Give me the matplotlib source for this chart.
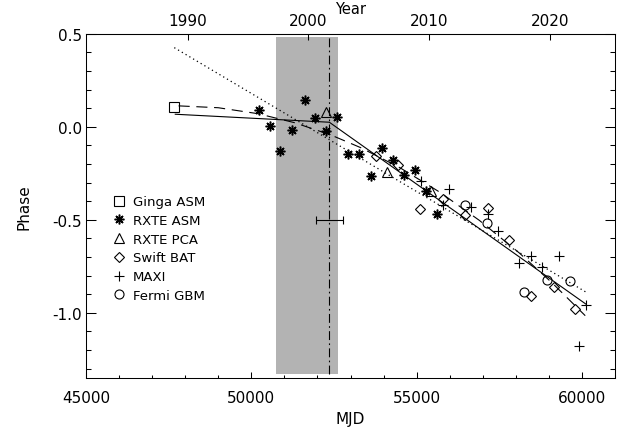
import numpy as np
import matplotlib
matplotlib.use("Agg")
from matplotlib import pyplot as plt
from matplotlib.ticker import MultipleLocator, NullLocator

plt.rcParams['font.family'] = ['DejaVu Sans']
plt.rcParams['font.size'] = 11
plt.rcParams['axes.unicode_minus'] = False

# phase residuals per instrument (MJD, phase)
ginga_mjd = [47672]
ginga_phase = [0.104]
asm_mjd = [50236, 50567, 50870, 51242, 51617, 51938, 52271, 52604, 52927,
           53269, 53614, 53956, 54298, 54622, 54964, 55287, 55610]
asm_phase = [0.092, 0.002, -0.132, -0.016, 0.145, 0.047, -0.025, 0.054, -0.148,
             -0.145, -0.263, -0.116, -0.177, -0.258, -0.231, -0.347, -0.469]
pca_mjd = [52262, 54095, 55426]
pca_phase = [0.077, -0.242, -0.346]
bat_mjd = [53774, 54449, 55106, 55793, 56467, 57152, 57808, 58455, 59140, 59795]
bat_phase = [-0.159, -0.204, -0.442, -0.389, -0.475, -0.437, -0.609, -0.909, -0.864, -0.98]
maxi_mjd = [55124, 55793, 55974, 56649, 57152, 57475, 58110, 58464, 58807, 59321, 59925, 60126]
maxi_phase = [-0.290, -0.421, -0.335, -0.433, -0.469, -0.559, -0.733, -0.697, -0.756,
              -0.693, -1.177, -0.957]
gbm_mjd = [56467, 57140, 58262, 58957, 59645]
gbm_phase = [-0.421, -0.519, -0.887, -0.824, -0.828]

# model curves
solid_mjd = [47700, 52360, 60130]
solid_phase = [0.067, 0.024, -0.955]
dotted_mjd = [47670, 60130]
dotted_phase = [0.425, -0.89]
dashed_mjd = [47800, 49000, 50200, 51300, 52400, 53300, 54500, 55700, 56900, 58100, 59100, 60100]
dashed_phase = [0.112, 0.102, 0.070, 0.022, -0.044, -0.112, -0.221, -0.352, -0.504, -0.678, -0.84, -1.016]

# break epoch and its uncertainty, shaded interval
break_mjd = 52360
break_err = 418
break_bar_phase = -0.5
shade_mjd = [50750, 52616]
shade_phase = [-1.33, 0.48]

fig = plt.figure(figsize=(6.38, 4.31), dpi=100)
ax = fig.add_axes([86/638, 1 - 378.8/431, 529/638, 344.1/431])

ax.fill_between(shade_mjd, shade_phase[0], shade_phase[1], color='#b3b3b3', lw=0, zorder=0)
ax.plot([break_mjd, break_mjd], shade_phase, color='black', lw=0.8,
        ls=(0, (8, 3, 1.5, 3)), zorder=1)
ax.errorbar([break_mjd], [break_bar_phase], xerr=[break_err], fmt='none',
            ecolor='black', elinewidth=0.8, capsize=3, capthick=0.8)

ax.plot(solid_mjd, solid_phase, color='black', lw=0.8)
ax.plot(dashed_mjd, dashed_phase, color='black', lw=0.8, ls=(0, (10, 6)))
ax.plot(dotted_mjd, dotted_phase, color='black', lw=0.9, ls=(0, (1, 2.5)))

mk = dict(ls='none', color='black', mfc='none', mew=0.8)
ax.plot(ginga_mjd, ginga_phase, marker='s', ms=6.5, label='Ginga ASM', **mk)
ax.plot(asm_mjd, asm_phase, marker=(8, 2, 0), ms=7, ls='none', color='black',
        mew=1.1, label='RXTE ASM')
ax.plot(pca_mjd, pca_phase, marker='^', ms=7, label='RXTE PCA', **mk)
ax.plot(bat_mjd, bat_phase, marker='D', ms=5, label='Swift BAT', **mk)
ax.plot(maxi_mjd, maxi_phase, marker='+', ms=7, label='MAXI', **mk)
ax.plot(gbm_mjd, gbm_phase, marker='o', ms=6.5, label='Fermi GBM', **mk)

ax.set_xlim(45000, 61000)
ax.set_ylim(-1.35, 0.5)
ax.xaxis.set_major_locator(MultipleLocator(5000))
ax.xaxis.set_minor_locator(MultipleLocator(1000))
ax.yaxis.set_major_locator(MultipleLocator(0.5))
ax.yaxis.set_minor_locator(MultipleLocator(0.1))
ax.yaxis.set_major_formatter(matplotlib.ticker.FormatStrFormatter('%.1f'))
ax.tick_params(axis='x', which='major', direction='in', length=4.5, width=0.75, pad=9, top=False)
ax.tick_params(axis='x', which='minor', direction='in', length=2.2, width=0.75, top=False)
ax.tick_params(axis='y', which='major', direction='in', length=7, width=0.75, pad=3, right=True)
ax.tick_params(axis='y', which='minor', direction='in', length=3.6, width=0.75, right=True)
for s in ax.spines.values():
    s.set_linewidth(0.75)

ax.set_xlabel('MJD', labelpad=4)
ax.set_ylabel('Phase', labelpad=15)


def mjd2year(m):
    return 2000 + (np.asarray(m) - 51726) / 365.25


def year2mjd(y):
    return 51726 + (np.asarray(y) - 2000) * 365.25


secax = ax.secondary_xaxis('top', functions=(mjd2year, year2mjd))
secax.set_xticks([1990, 2000, 2010, 2020])
secax.xaxis.set_minor_locator(NullLocator())
secax.tick_params(direction='in', length=4, width=0.75, pad=4)
secax.spines['top'].set_linewidth(0.75)
secax.set_xlabel('Year', labelpad=0, fontsize=10.5)

ax.legend(loc='upper left', bbox_to_anchor=(0.049, 0.530), frameon=False,
          fontsize=9.5, borderpad=0, borderaxespad=0, handlelength=1.0,
          handletextpad=0.6, labelspacing=0.43, numpoints=1)

fig.savefig('out.png', dpi=100)
